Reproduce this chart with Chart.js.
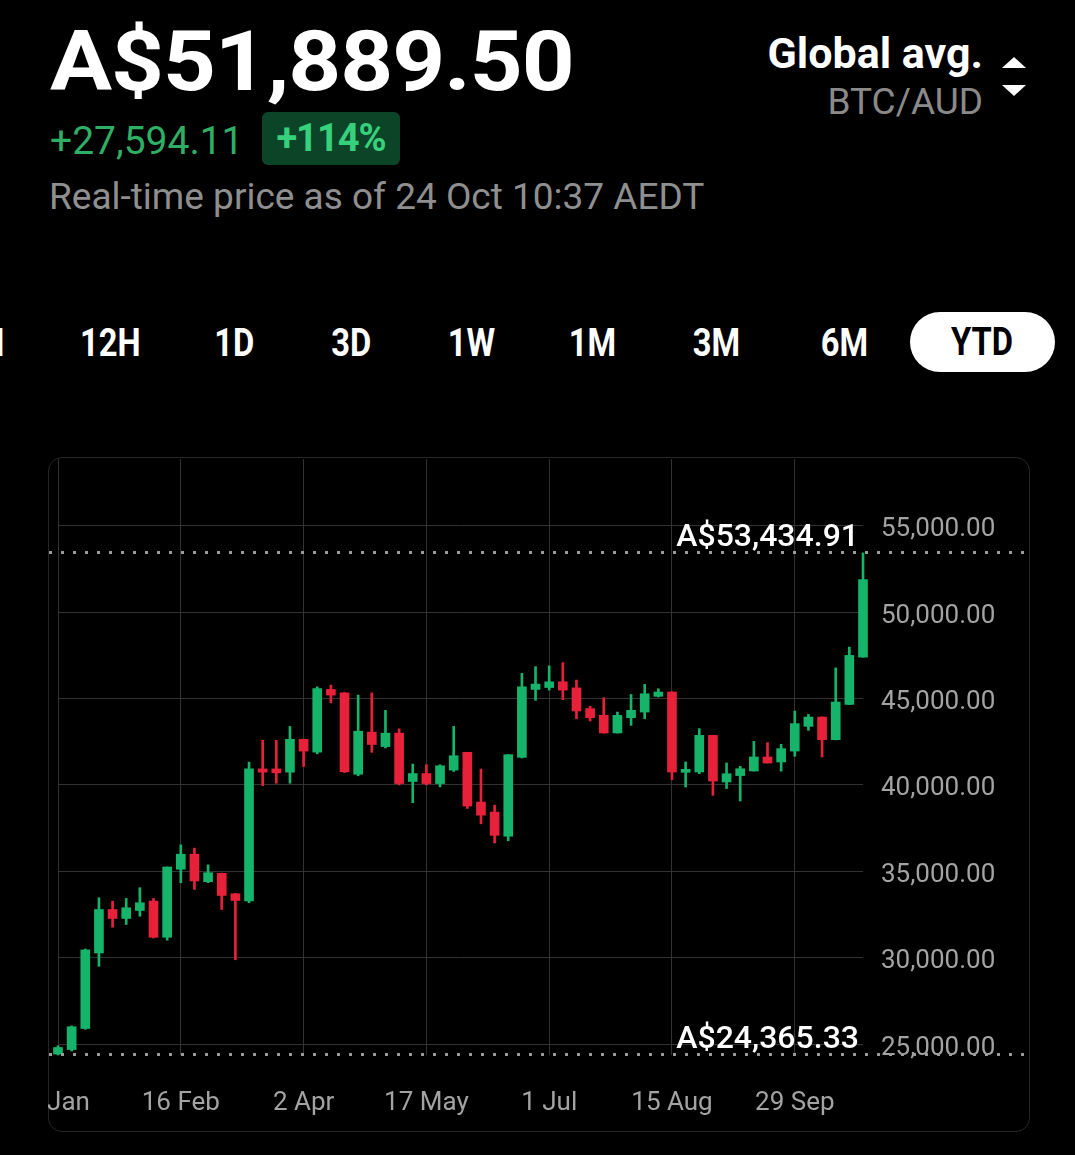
<!DOCTYPE html>
<html>
<head>
<meta charset="utf-8">
<script src="https://cdn.jsdelivr.net/npm/chart.js@4.4.1/dist/chart.umd.min.js"></script>
<style>
  html, body { margin: 0; padding: 0; background: #000; }
  body { width: 1075px; height: 1155px; position: relative; overflow: hidden; font-family: Roboto, sans-serif; }
  .abs { position: absolute; white-space: nowrap; }
  #price { left: 50px; top: 20px; font-size: 84px; font-weight: 700; color: #fff; line-height: 84px; letter-spacing: -1px;
           transform: scaleX(1.1); transform-origin: left center; }
  #change { left: 50px; top: 121px; font-size: 39px; color: #2fae66; line-height: 40px; }
  #badge { left: 262px; top: 112px; width: 138px; height: 53px; border-radius: 6px; background: #0c4428;
           color: #37d07c; font-size: 38px; font-weight: 700; line-height: 53px; text-align: center; letter-spacing: -1px; }
  #asof { left: 49px; top: 177px; font-size: 37px; color: #8f8f8f; line-height: 40px; }
  #venue { right: 92px; top: 30px; font-size: 43px; font-weight: 700; color: #fff; line-height: 46px; }
  #pair { right: 92px; top: 81px; font-size: 37px; color: #8a8a8a; line-height: 42px; }
  .tri { position: absolute; left: 1002px; width: 0; height: 0; border-left: 12.5px solid transparent; border-right: 12.5px solid transparent; }
  #up { top: 57px; border-bottom: 11px solid #fff; }
  #down { top: 85px; border-top: 11px solid #fff; }
  .tab { position: absolute; top: 313px; width: 140px; height: 60px; line-height: 60px; text-align: center;
         font-size: 38px; font-weight: 700; color: #fff; }
  .tab span { display: inline-block; transform: scaleX(0.86); }
  #ytd { background: #fff; color: #000; border-radius: 30px; width: 145px; left: 910px; top: 312px; }
  #card { left: 48px; top: 457px; width: 982px; height: 675px; box-sizing: border-box; border: 1px solid #262626; border-radius: 14px; }
  #wrap { position: absolute; left: 48px; top: 457px; width: 982px; height: 675px; }
</style>
</head>
<body>
<div class="abs" id="price">A$51,889.50</div>
<div class="abs" id="change">+27,594.11</div>
<div class="abs" id="badge">+114%</div>
<div class="abs" id="asof">Real-time price as of 24 Oct 10:37 AEDT</div>
<div class="abs" id="venue">Global avg.</div>
<div class="abs" id="pair">BTC/AUD</div>
<div class="tri" id="up"></div>
<div class="tri" id="down"></div>

<div class="tab" style="left:-87px;"><span>1H</span></div>
<div class="tab" style="left:40px;"><span>12H</span></div>
<div class="tab" style="left:164px;"><span>1D</span></div>
<div class="tab" style="left:281px;"><span>3D</span></div>
<div class="tab" style="left:402px;"><span>1W</span></div>
<div class="tab" style="left:523px;"><span>1M</span></div>
<div class="tab" style="left:647px;"><span>3M</span></div>
<div class="tab" style="left:775px;"><span>6M</span></div>
<div class="tab" id="ytd"><span>YTD</span></div>

<div class="abs" id="card"></div>
<div id="wrap"><canvas id="btcChart" width="982" height="675"></canvas></div>

<script>
// 5-day candles, BTC/AUD year to date
const dates = ['2 Jan','7 Jan','12 Jan','17 Jan','22 Jan','27 Jan','1 Feb','6 Feb','11 Feb','16 Feb',
  '21 Feb','26 Feb','3 Mar','8 Mar','13 Mar','18 Mar','23 Mar','28 Mar','2 Apr','7 Apr',
  '12 Apr','17 Apr','22 Apr','27 Apr','2 May','7 May','12 May','17 May','22 May','27 May',
  '1 Jun','6 Jun','11 Jun','16 Jun','21 Jun','26 Jun','1 Jul','6 Jul','11 Jul','16 Jul',
  '21 Jul','26 Jul','31 Jul','5 Aug','10 Aug','15 Aug','20 Aug','25 Aug','30 Aug','4 Sep',
  '9 Sep','14 Sep','19 Sep','24 Sep','29 Sep','4 Oct','9 Oct','14 Oct','19 Oct','24 Oct'];

const opens = [24420, 24680, 25900, 30270, 32790, 32270, 32730, 33280, 31180, 35120,
  35990, 34400, 34880, 33700, 33280, 40930, 40930, 40740, 42640, 41900,
  45530, 45330, 40620, 43060, 42220, 43000, 40200, 40660, 40080, 40860,
  41890, 39010, 38430, 37030, 41600, 45530, 45640, 45970, 45620, 44420,
  44030, 43010, 43890, 44220, 45130, 45380, 40730, 40750, 42870, 40170,
  40540, 40810, 41620, 41330, 41960, 43390, 43930, 42620, 44660, 47400];

const highs = [24900, 26050, 30500, 33470, 33270, 33430, 34050, 33430, 35250, 36530,
  36340, 35370, 34900, 33720, 41320, 42580, 42580, 43390, 42650, 45680,
  45780, 45350, 45200, 45330, 44320, 43250, 41210, 41170, 41170, 43390,
  41890, 40920, 38830, 41760, 46460, 46850, 46890, 47080, 46070, 44550,
  45050, 44220, 45240, 45820, 45570, 45400, 41330, 43260, 42880, 41270,
  41080, 42520, 42450, 42350, 44280, 44080, 43940, 46780, 47980, 53434.91];

const lows = [24365.33, 24600, 25850, 29500, 31760, 31920, 32400, 31140, 31010, 34340,
  33950, 34340, 32790, 29880, 33180, 39960, 40100, 40100, 41070, 41800,
  44750, 40720, 40530, 41890, 42140, 40000, 38970, 40000, 39890, 40780,
  38640, 37750, 36640, 36770, 41560, 44900, 45490, 44940, 43830, 43700,
  43000, 43000, 43450, 43830, 45090, 40310, 39880, 40650, 39400, 39790,
  39070, 40800, 41270, 40800, 41660, 43160, 41620, 42610, 44650, 47390];

const closes = [24800, 26000, 30450, 32790, 32270, 32890, 33180, 31180, 35250, 35990,
  34440, 34920, 33600, 33310, 40930, 40740, 40700, 42640, 41960, 45580,
  45200, 40760, 43110, 42340, 43000, 40080, 40660, 40080, 41110, 41690,
  38780, 38250, 37080, 41750, 45680, 45840, 45970, 45490, 44280, 43890,
  43010, 44030, 44320, 45280, 45380, 40750, 40890, 42870, 40230, 40650,
  40940, 41620, 41270, 42100, 43550, 43930, 42620, 44800, 47500, 51889.50];

const yTickValues = [25000, 30000, 35000, 40000, 45000, 50000, 55000];
const xTickIndexes = [0, 9, 18, 27, 36, 45, 54];
const yTop = 58870;

const UP = '#16b36a';
const DOWN = '#e8213b';
const candleColors = opens.map((o, i) => closes[i] >= o ? UP : DOWN);

// dotted lines + labels for the period high / low
const extremesPlugin = {
  id: 'extremes',
  afterDraw(chart) {
    const { ctx, scales: { y } } = chart;
    const hi = Math.max(...highs);
    const lo = Math.min(...lows);
    ctx.save();
    [hi, lo].forEach(v => {
      const py = Math.round(y.getPixelForValue(v)) - 0.5;
      ctx.strokeStyle = '#9a9a9a';
      ctx.lineWidth = 3;
      ctx.setLineDash([3, 9]);
      ctx.beginPath();
      ctx.moveTo(1, py);
      ctx.lineTo(chart.width - 4, py);
      ctx.stroke();
      ctx.setLineDash([]);
      ctx.fillStyle = '#fff';
      ctx.font = '500 32px Roboto';
      ctx.textAlign = 'right';
      ctx.textBaseline = 'alphabetic';
      ctx.fillText('A$' + v.toLocaleString('en-US', { minimumFractionDigits: 2, maximumFractionDigits: 2 }), 811, py - 7);
    });
    ctx.restore();
  }
};

const ctx = document.getElementById('btcChart').getContext('2d');
new Chart(ctx, {
  type: 'bar',
  data: {
    labels: dates,
    datasets: [
      {
        label: 'wick',
        data: lows.map((l, i) => [l, highs[i]]),
        backgroundColor: candleColors,
        barThickness: 2,
        grouped: false,
        clip: false,
        order: 2
      },
      {
        label: 'body',
        data: opens.map((o, i) => [o, closes[i]]),
        backgroundColor: candleColors,
        barThickness: 9,
        minBarLength: 3,
        grouped: false,
        clip: false,
        order: 1
      }
    ]
  },
  options: {
    responsive: false,
    animation: false,
    layout: { padding: { left: 10, top: 2, right: 0, bottom: 0 } },
    plugins: { legend: { display: false }, tooltip: { enabled: false } },
    scales: {
      x: {
        offset: false,
        grid: { color: '#333', drawTicks: false, offset: false },
        border: { display: false },
        ticks: { autoSkip: false, maxRotation: 0, color: '#a3a3a3', font: { family: 'Roboto', size: 26 }, padding: 33 },
        afterBuildTicks(scale) {
          scale.ticks = scale.ticks.filter(t => xTickIndexes.includes(t.value));
        },
        afterFit(scale) {
          scale.height = 77;
          scale.paddingLeft = 0;
          scale.paddingRight = 0;
        }
      },
      y: {
        position: 'right',
        min: Math.min(...lows),
        max: yTop,
        grid: { color: '#333', drawTicks: false },
        border: { display: false },
        ticks: {
          color: '#a3a3a3', font: { family: 'Roboto', size: 26 }, padding: 18, labelOffset: 4,
          callback: v => v.toLocaleString('en-US', { minimumFractionDigits: 2, maximumFractionDigits: 2 })
        },
        afterBuildTicks(scale) {
          scale.ticks = yTickValues.map(v => ({ value: v }));
        },
        afterFit(scale) {
          scale.width = 167;
          scale.paddingTop = 0;
          scale.paddingBottom = 0;
        }
      }
    }
  },
  plugins: [extremesPlugin]
});
</script>
</body>
</html>
